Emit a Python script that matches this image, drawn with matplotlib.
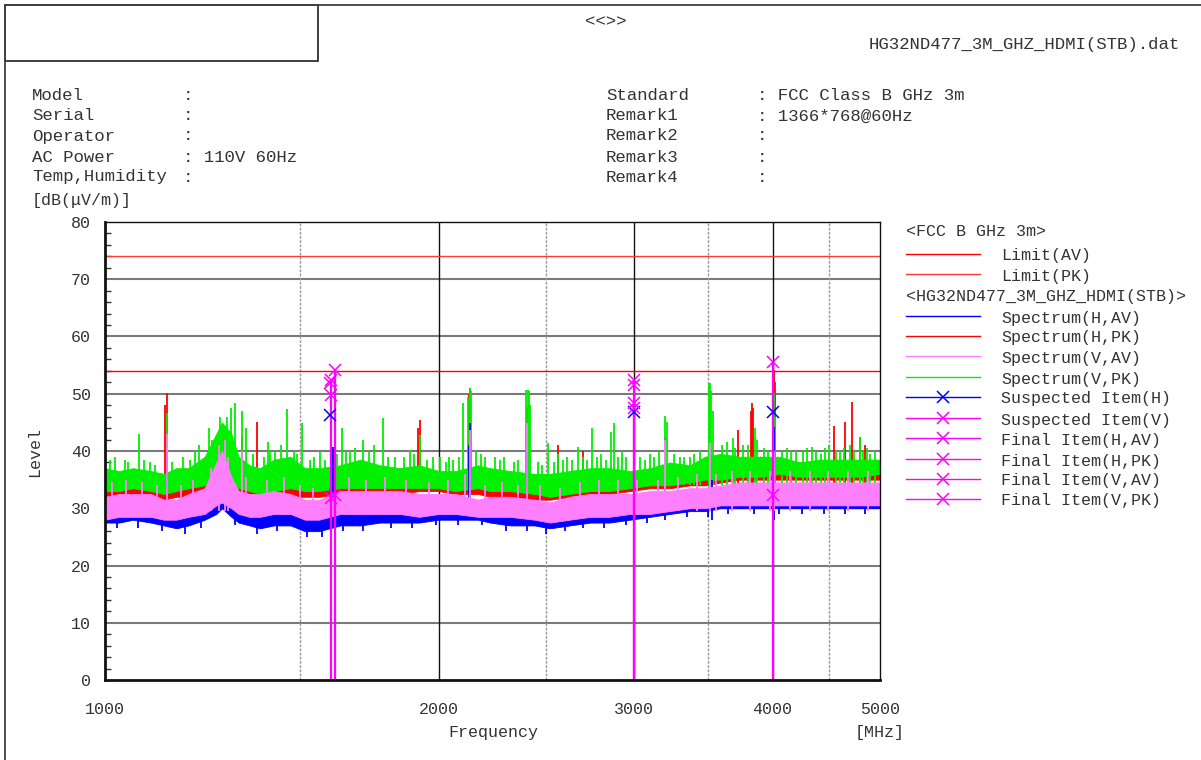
import numpy as np
import matplotlib
matplotlib.use("Agg")
import matplotlib.pyplot as plt
from matplotlib.lines import Line2D
from matplotlib.patches import Rectangle

# ---- data ----
freq = [1000, 1030, 1060, 1100, 1130, 1160, 1190, 1230, 1260, 1275, 1300, 1320,
        1350, 1380, 1420, 1470, 1515, 1560, 1630, 1700, 1770, 1845, 1920, 2000,
        2070, 2170, 2225, 2320, 2440, 2520, 2625, 2740, 2850, 2975, 3100, 3230,
        3370, 3475, 3590, 3740, 3900, 4060, 4230, 4410, 4600, 4800, 5000]

# spectrum bands (lower / upper edge of the noise), dB(uV/m)
vpk_lo = [33, 33, 33.5, 33, 32.5, 33, 33.5, 34, 35.5, 36, 35, 33.5, 33, 32.5, 33, 33.5,
          33, 33, 33.5, 33.5, 33.5, 33.5, 33.5, 33.5, 33, 33.5, 33, 33, 32.5, 32, 32.5,
          33, 33, 33.5, 34, 34, 34.5, 35, 35, 35.5, 35.5, 36, 35.5, 35.5, 35.5, 35.5, 36]
vpk_hi = [37, 36.5, 37, 36.5, 36, 37, 37, 39, 43, 45, 43, 39, 37.5, 37, 38.5, 39,
          37, 37, 37.5, 38.5, 37.5, 37, 37.5, 36.5, 36.5, 37.5, 37, 36.5, 36, 36, 36.5,
          37, 37, 36.5, 37, 38, 37.5, 39, 39.5, 39, 39, 39, 38, 38.5, 38.5, 38.5, 38.5]
hpk_lo = [31.5, 32, 32, 31.5, 31.5, 32, 32, 32.5, 33, 34, 33, 32, 31.5, 31, 31.5, 32,
          32, 32, 32.5, 32.5, 32.5, 32.5, 33, 33, 32.5, 32.5, 32, 32, 31.5, 31.5, 32,
          32.5, 32.5, 33, 33.5, 33.5, 34, 34, 34.5, 35, 35, 35, 35, 35, 35, 35, 35]
hpk_hi = [36, 36, 36.5, 35.5, 35.5, 36, 36, 37, 40, 42, 40, 37, 36, 36, 37, 37,
          36, 36, 36, 37, 36.5, 36.5, 37, 36, 36, 36.5, 36, 35.5, 35, 35, 36,
          36, 36, 36, 36.5, 37, 37, 38, 38.5, 38.5, 39, 38.5, 38, 38, 38, 38, 38]
hav_lo = [27.5, 27.5, 28, 27.5, 27, 26.5, 27, 28, 29, 30, 28.5, 27.5, 27, 26.5, 27, 27,
          26, 26, 27, 27, 27.5, 27.5, 27.5, 28, 28, 28, 27.5, 27, 27, 26.5, 27,
          27.5, 27.5, 28, 28.5, 29, 29.5, 29.5, 30, 30, 30, 30, 30, 30, 30, 30, 30]
hav_hi = [31, 31, 31.5, 31, 30, 30, 30.5, 31, 33, 34, 32, 30.5, 30, 30, 31, 30.5,
          29.5, 29, 31, 30.5, 31, 31, 31, 31, 31, 31, 30.5, 30, 30, 29.5, 30,
          30.5, 31, 31, 31, 31.5, 32, 32.5, 33, 33, 33.5, 34, 33.5, 34, 34, 34, 34]
vav_lo = [28, 28.5, 28.5, 28.5, 28, 28, 28.5, 29, 30.5, 31, 30, 29, 28.5, 28.5, 29, 29,
          28, 28, 29, 29, 29, 29, 28.5, 29, 29, 28.5, 28.5, 28.5, 28, 27.5, 28,
          28.5, 28.5, 29, 29, 29.5, 30, 30, 30.5, 30.5, 30.5, 30.5, 30.5, 30.5, 30.5, 30.5, 30.5]
vav_hi = [32, 32.5, 32.5, 32.5, 31.5, 31.5, 32.5, 33.5, 38, 40, 35.5, 33, 32.5, 32.5, 33, 32.5,
          31.5, 31.5, 33, 33, 33, 33, 32.5, 32.5, 32.5, 31.5, 32, 32, 31.5, 31, 32,
          32.5, 32.5, 32.5, 33, 33, 33.5, 33.5, 34, 34.5, 34.5, 34.5, 34.5, 34.5, 34.5, 34.5, 34.5]

# narrow emissions sticking out of the bands (frequency MHz, level)
vpk_spk_f = [1042, 1073, 1098, 1137, 1193, 1250, 1270, 1288, 1300, 1310, 1329, 1340,
             1403, 1423, 1459, 1480, 1505, 1563, 1636, 1663, 1709, 1781, 1826, 1884,
             1923, 2005, 2060, 2103, 2125, 2134, 2140, 2200, 2247, 2397, 2405, 2412,
             2417, 2509, 2562, 2671, 2749, 2800, 2860, 2878, 2950, 3100, 3199, 3210,
             3300, 3370, 3506, 3513, 3522, 3535, 3685, 3760, 3857, 3870, 3960, 4005,
             4013, 4020, 4200, 4342, 4420, 4601, 4700, 4797, 4900]
vpk_spk_v = [38.5, 43, 38, 46.6, 38.5, 42, 46, 46, 47.5, 48.4, 47, 44,
             41.6, 40, 47.3, 40, 44.9, 40, 44, 40, 42, 45.8, 39, 40.2,
             42.8, 39, 38.5, 48.4, 49.5, 51, 50.5, 39, 39, 50.7, 50.7, 50.5,
             48, 41.4, 39.5, 40.7, 44, 39.5, 43.3, 44.9, 39, 39.5, 46.1, 45,
             39, 39, 51.9, 51.9, 50.5, 47, 42.3, 41, 44, 42, 40, 48,
             50.1, 46, 40, 40.7, 39.5, 40, 41, 42.4, 39.5]
# low-level "grass" on top of the V,PK noise floor
vpk_grass_f = [1010, 1020, 1050, 1085, 1110, 1150, 1175, 1205, 1215, 1240, 1360, 1390,
               1410, 1440, 1490, 1530, 1545, 1580, 1620, 1650, 1680, 1730, 1750, 1800,
               1860, 1900, 1950, 1975, 2030, 2045, 2085, 2160, 2185, 2270, 2290, 2340,
               2360, 2460, 2480, 2540, 2590, 2610, 2640, 2700, 2720, 2780, 2830, 2900,
               2925, 3000, 3040, 3070, 3130, 3160, 3260, 3330, 3400, 3440, 3600, 3640,
               3700, 3800, 3930, 4080, 4120, 4160, 4260, 4300, 4380, 4460, 4500, 4560,
               4640, 4740, 4830, 4870, 4950]
vpk_grass_v = [38.5, 39, 38, 38.5, 37.5, 38, 39, 40, 41, 44, 39.5, 39,
               40, 41, 39.5, 38.5, 39, 38.5, 39.5, 40, 40.5, 40, 41, 39,
               39, 39.5, 38.5, 39, 38, 39, 39, 40, 39.5, 38.5, 39, 38,
               38.5, 38, 37.5, 38, 38.5, 39, 38.5, 39, 38.5, 39, 38.5, 39,
               40, 38.5, 39, 38.5, 39, 40, 39.5, 39, 39.5, 40, 41, 41.5,
               40.5, 41, 40.5, 40, 40.5, 40, 40, 40.5, 40, 40.5, 41, 40,
               40.5, 40, 40, 40.5, 40]
hpk_spk_f = [1132, 1137, 1329, 1371, 1915, 1923, 2128, 2134, 2401, 2562, 2700, 3199,
             3724, 3826, 3833, 3840, 4001, 4013, 4020, 4545, 4650, 4717, 4797, 4850]
hpk_spk_v = [48, 50.1, 42.4, 45, 44, 45.4, 50, 51, 47.7, 41, 40, 42.4,
             43.7, 47, 48.4, 47.5, 53, 54.1, 52, 44.4, 45.1, 48.6, 42.4, 41]
hav_spk_f = [1137, 1602, 1606, 2128, 2134, 2401, 3530, 4013]
hav_spk_v = [40, 39.5, 40.7, 41, 44.9, 39.6, 35, 44.2]
# dips of the H,AV floor below the V,AV trace
hav_dip_f = [1025, 1070, 1125, 1180, 1220, 1310, 1370, 1430, 1520, 1570, 1640, 1710,
             1810, 1890, 1990, 2080, 2190, 2300, 2400, 2500, 2600, 2700, 2820, 2950,
             3080, 3200, 3350, 3500, 3650, 3850, 4050, 4250, 4450, 4650, 4850]
hav_dip_v = [26.5, 26.5, 26, 25.5, 26.5, 27, 25.5, 26, 25, 25, 26, 26,
             26.5, 26.5, 27, 27, 27, 26, 26, 25.5, 26, 26.5, 26.5, 27,
             27.5, 28, 28.5, 28.5, 29, 29, 29, 29, 29, 29, 29]
vav_spk_f = [1137, 1268, 1282, 1329, 2134, 2401, 3199, 3513, 4013]
vav_spk_v = [43, 41, 42, 40, 43.7, 44.9, 41.9, 41.4, 40]
vav_grass_f = [1015, 1045, 1080, 1115, 1170, 1200, 1245, 1290, 1340, 1400, 1450, 1500,
               1540, 1600, 1660, 1720, 1790, 1870, 1960, 2040, 2110, 2200, 2280, 2360,
               2470, 2570, 2680, 2790, 2900, 3020, 3150, 3290, 3420, 3560, 3680, 3820,
               3980, 4150, 4320, 4490, 4680, 4880]
vav_grass_v = [34.5, 35, 34.5, 34, 34, 35, 37, 39, 35.5, 35, 35.5, 34,
               33.5, 35, 35.5, 35, 35.5, 35, 34.5, 35, 36, 34, 34.5, 34,
               34, 33.5, 34.5, 35, 35, 35, 35, 35.5, 36, 36, 36.5, 36.5,
               36.5, 36.5, 36.5, 36.5, 36.5, 36.5]

# limits
limit_f = [1000, 5000]
limit_av = [54, 54]
limit_pk = [74, 74]

# measured items
susp_h_f = [1596, 3000, 4000]
susp_h_v = [46.3, 46.8, 46.8]
susp_v_f = [1596, 1600, 3000, 3000]
susp_v_v = [51.9, 49.8, 51.5, 48.4]
fin_hav_f = [1600]
fin_hav_v = [31.8]
fin_hpk_f = [1599, 3000]
fin_hpk_v = [52.4, 47.5]
fin_vav_f = [1612, 4000]
fin_vav_v = [32.3, 32.3]
fin_vpk_f = [1612, 3000, 4000]
fin_vpk_v = [54.1, 52.4, 55.5]

info_left = [("Model", ""), ("Serial", ""), ("Operator", ""),
             ("AC Power", "110V 60Hz"), ("Temp,Humidity", "")]
info_right = [("Standard", "FCC Class B GHz 3m"), ("Remark1", "1366*768@60Hz"),
              ("Remark2", ""), ("Remark3", ""), ("Remark4", "")]

# ---- styling ----
W, H = 1201, 760
MONO = "Liberation Mono"
TXT = "#333333"
BLUE, RED, PINK, GREEN, MAG = "#0000ff", "#ff0000", "#ff80ff", "#00f000", "#ff00ff"
LIM_PK = "#ff3a3a"

plt.rcParams["font.family"] = [MONO, "DejaVu Sans Mono"]

fig = plt.figure(figsize=(W / 100, H / 100), dpi=100)


def fx(x):
    return x / W


def fy(y):
    return 1 - y / H


def put(x, y, s, ha="left", size=12.5, **kw):
    fig.text(fx(x), fy(y), s, ha=ha, va="center", fontsize=size, color=TXT, **kw)


ax = fig.add_axes([fx(105), fy(680), fx(880) - fx(105), fy(222) - fy(680)])
ax.set_xscale("log")
ax.set_xlim(1000, 5000)
ax.set_ylim(0, 80)

# grid
for v in range(10, 80, 10):
    ax.axhline(v, color="#7a7a7a", lw=1.5, zorder=1)
for f in [2000, 3000, 4000]:
    ax.axvline(f, color="#111111", lw=1.0, zorder=1)
for f in [1500, 2500, 3500, 4500]:
    ax.axvline(f, color="#9a9a9a", lw=1.0, ls=(0, (2, 1)), zorder=1)

# spectra: red, green, blue, pink (pink drawn last, as in the reference)
series = [
    (hpk_lo, hpk_hi, [hpk_spk_f], [hpk_spk_v], [], [], RED),
    (vpk_lo, vpk_hi, [vpk_spk_f, vpk_grass_f], [vpk_spk_v, vpk_grass_v], [], [], GREEN),
    (hav_lo, hav_hi, [hav_spk_f], [hav_spk_v], hav_dip_f, hav_dip_v, BLUE),
    (vav_lo, vav_hi, [vav_spk_f, vav_grass_f], [vav_spk_v, vav_grass_v], [], [], PINK),
]
for i, (lo, hi, sfs, svs, df, dv, c) in enumerate(series):
    z = 3 + i
    ax.fill_between(freq, lo, hi, color=c, lw=0.6, edgecolor=c, zorder=z)
    for sf, sv in zip(sfs, svs):
        ax.vlines(sf, min(lo) + 2, sv, color=c, lw=1.3, zorder=z)
    if df:
        ax.vlines(df, dv, max(lo), color=c, lw=1.3, zorder=z)

# limits
ax.plot(limit_f, limit_av, color=RED, lw=1.0, zorder=8)
ax.plot(limit_f, limit_pk, color=LIM_PK, lw=1.0, zorder=8)

# final item stems
for f, v in zip(fin_vpk_f + fin_hpk_f, fin_vpk_v + fin_hpk_v):
    ax.vlines(f, 0, v, color=MAG, lw=1.6, zorder=9)

mk = dict(ls="none", marker="x", ms=9, mew=1.1, zorder=10)
ax.plot(susp_h_f, susp_h_v, color=BLUE, **mk)
ax.plot(susp_v_f, susp_v_v, color=MAG, **mk)
ax.plot(fin_hav_f, fin_hav_v, color=MAG, **mk)
ax.plot(fin_hpk_f, fin_hpk_v, color=MAG, **mk)
ax.plot(fin_vav_f, fin_vav_v, color=MAG, **mk)
ax.plot(fin_vpk_f, fin_vpk_v, color=MAG, **mk)

# axes look
ax.set_xticks([1000, 2000, 3000, 4000, 5000])
ax.set_xticklabels(["1000", "2000", "3000", "4000", "5000"])
ax.xaxis.set_minor_locator(matplotlib.ticker.NullLocator())
ax.set_yticks(range(0, 81, 10))
ax.set_yticks(range(0, 81, 2), minor=True)
ax.tick_params(axis="x", length=0, pad=16, labelsize=12, labelcolor=TXT)
ax.tick_params(axis="y", which="major", length=0, pad=10, labelsize=12, labelcolor=TXT)
ax.tick_params(axis="y", which="minor", direction="in", length=4, width=1, color="#333333")
for s in ["left", "bottom"]:
    ax.spines[s].set_linewidth(2.0)
for s in ["top", "right"]:
    ax.spines[s].set_linewidth(1.0)
for s in ax.spines.values():
    s.set_color("#111111")
    s.set_zorder(11)

# page frame and header
fig.add_artist(Line2D([fx(5), fx(1201)], [fy(5), fy(5)], color="#404040", lw=1.3))
fig.add_artist(Line2D([fx(5), fx(5)], [fy(5), fy(760)], color="#404040", lw=1.3))
fig.add_artist(Rectangle((fx(5), fy(61)), fx(318) - fx(5), fy(5) - fy(61),
                         fill=False, edgecolor="#303030", lw=1.3))
put(606, 22, "<<>>", ha="center")
put(1180, 44, "HG32ND477_3M_GHZ_HDMI(STB).dat", ha="right")

rows = [95, 116, 136, 157, 177]
for y, (k, v) in zip(rows, info_left):
    put(32, y, k)
    put(183, y, ":" + (" " + v if v else ""))
for y, (k, v) in zip(rows, info_right):
    put(606, y, k)
    put(757, y, ":" + (" " + v if v else ""))

put(32, 200, "[dB(\u03bcV/m)]", size=12)
fig.text(fx(35), fy(452), "Level", rotation=90, ha="center", va="center",
         fontsize=12, color=TXT)
put(493, 732, "Frequency", ha="center", size=12)
put(880, 732, "[MHz]", ha="center", size=12)

# legend
put(906, 232, "<FCC B GHz 3m>", size=12)
put(906, 296, "<HG32ND477_3M_GHZ_HDMI(STB)>", size=12)
legend_rows = [
    (256, "Limit(AV)", RED, None),
    (276, "Limit(PK)", LIM_PK, None),
    (318, "Spectrum(H,AV)", BLUE, None),
    (338, "Spectrum(H,PK)", RED, None),
    (358, "Spectrum(V,AV)", PINK, None),
    (379, "Spectrum(V,PK)", GREEN, None),
    (399, "Suspected Item(H)", BLUE, "x"),
    (420, "Suspected Item(V)", MAG, "x"),
    (440, "Final Item(H,AV)", MAG, "x"),
    (461, "Final Item(H,PK)", MAG, "x"),
    (481, "Final Item(V,AV)", MAG, "x"),
    (501, "Final Item(V,PK)", MAG, "x"),
]
for y, label, c, m in legend_rows:
    fig.add_artist(Line2D([fx(906), fx(980)], [fy(y - 2), fy(y - 2)], color=c, lw=1.0))
    if m:
        fig.add_artist(Line2D([fx(943)], [fy(y - 2)], color=c, marker=m, ms=9, mew=1.1))
    put(1001, y, label, size=12)

fig.savefig("out.png", dpi=100, facecolor="white")
